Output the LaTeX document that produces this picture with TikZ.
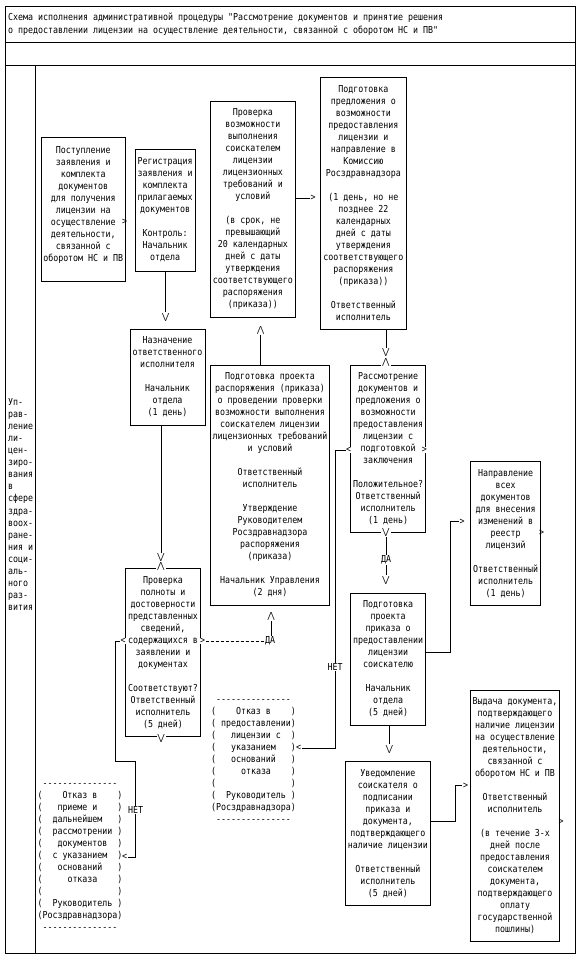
\documentclass[tikz,border=0pt]{standalone}
\usepackage{fontspec}
\setmonofont{DejaVu Sans Mono}[FakeStretch=0.865]
\newlength\cw
\newcommand\pl[2]{(\makebox[15\cw][l]{\hspace*{#1\cw}#2})}
\newcommand\dl{\hspace*{\cw}---------------}
\newcommand\arrdn{\textbackslash\kern-1.7pt/}
\newcommand\arrup{/\kern-1.7pt\textbackslash}
\begin{document}
\settowidth\cw{\ttfamily\fontsize{9.6}{12}\selectfont x}%
\begin{tikzpicture}[x=1pt,y=-1pt,
  every node/.style={font=\ttfamily\fontsize{9.6}{12}\selectfont, inner sep=0pt},
  box/.style={draw, line width=1pt, align=center},
  glyph/.style={inner sep=0.5pt},
  glyphw/.style={fill=white, inner sep=0.5pt},
  lbl/.style={fill=white, inner sep=0.5pt},
  conn/.style={line width=1pt},
  dconn/.style={line width=1pt, dash pattern=on 3.5pt off 1.5pt},
  framel/.style={line width=1pt}]
\fill[white] (0,0) rectangle (582,961);
\useasboundingbox (0,0) rectangle (582,961);

% frame
\draw[framel] (5,6) rectangle (575,953);
\draw[framel] (5,42) -- (575,42);
\draw[framel] (5,65) -- (575,65);
\draw[framel] (35.3,65) -- (35.3,953);

\node[anchor=west, align=left, font=\ttfamily\fontsize{9.6}{13}\selectfont] (title) at (8,24.5)
 {Схема исполнения административной процедуры "Рассмотрение документов и принятие решения\\о предоставлении лицензии на осуществление деятельности, связанной с оборотом НС и ПВ"};

\node[anchor=west, align=left, font=\ttfamily\fontsize{9.6}{12.1}\selectfont] (side) at (8,504.5)
 {Уп-\\рав-\\ление\\ли-\\цен-\\зиро-\\вания\\в\\сфере\\здра-\\воох-\\ране-\\ния и\\соци-\\аль-\\ного\\раз-\\вития};

% boxes
\node[box, minimum width=84.5pt, minimum height=144.5pt] (b1) at (83.25,209.25)
 {Поступление\\заявления и\\комплекта\\документов\\для получения\\лицензии на\\осуществление\\деятельности,\\связанной с\\оборотом НС и ПВ\\[-2pt]\mbox{}};
\node[box, minimum width=60.3pt, minimum height=122pt] (b2) at (165.2,210)
 {Регистрация\\заявления и\\комплекта\\прилагаемых\\документов\\[12pt]Контроль:\\Начальник\\отдела};
\node[box, minimum width=84.3pt, minimum height=215.3pt] (b3) at (252.85,209.35)
 {Проверка\\возможности\\выполнения\\соискателем\\лицензии\\лицензионных\\требований и\\условий\\[12pt](в срок, не\\превышающий\\20 календарных\\дней с даты\\утверждения\\соответствующего\\распоряжения\\(приказа))};
\node[box, minimum width=85.3pt, minimum height=252pt] (b4) at (363.35,203)
 {Подготовка\\предложения о\\возможности\\предоставления\\лицензии и\\направление в\\Комиссию\\Росздравнадзора\\[12pt](1 день, но не\\позднее 22\\календарных\\дней с даты\\утверждения\\соответствующего\\распоряжения\\(приказа))\\[12pt]Ответственный\\исполнитель};
\node[box, minimum width=75pt, minimum height=96pt] (b5) at (167.5,377)
 {Назначение\\ответственного\\исполнителя\\[12pt]Начальник\\отдела\\(1 день)};
\node[box, minimum width=74.6pt, minimum height=168.4pt] (b6) at (163,652.5)
 {Проверка\\полноты и\\достоверности\\представленных\\сведений,\\содержащихся в\\заявлении и\\документах\\[12pt]Соответствуют?\\Ответственный\\исполнитель\\(5 дней)};
\node[box, minimum width=118.6pt, minimum height=240pt] (b7) at (270,485)
 {Подготовка проекта\\распоряжения (приказа)\\о проведении проверки\\возможности выполнения\\соискателем лицензии\\лицензионных требований\\и условий\\[12pt]Ответственный\\исполнитель\\[12pt]Утверждение\\Руководителем\\Росздравнадзора\\распоряжения\\(приказа)\\[12pt]Начальник Управления\\(2 дня)};
\node[box, minimum width=75pt, minimum height=167.7pt] (b8) at (388.2,448.85)
 {Рассмотрение\\документов и\\предложения о\\возможности\\предоставления\\лицензии с\\подготовкой\\заключения\\[12pt]Положительное?\\Ответственный\\исполнитель\\(1 день)};
\node[box, minimum width=75pt, minimum height=131.7pt] (b9) at (388.2,659.15)
 {Подготовка\\проекта\\приказа о\\предоставлении\\лицензии\\соискателю\\[12pt]Начальник\\отдела\\(5 дней)};
\node[box, minimum width=70pt, minimum height=144pt] (b10) at (505.7,533.7)
 {Направление\\всех\\документов\\для внесения\\изменений в\\реестр\\лицензий\\[12pt]Ответственный\\исполнитель\\(1 день)};
\node[box, minimum width=85.7pt, minimum height=143.3pt] (b11) at (387.85,833.35)
 {Уведомление\\соискателя о\\подписании\\приказа и\\документа,\\подтверждающего\\наличие лицензии\\[12pt]Ответственный\\исполнитель\\(5 дней)};
\node[box, minimum width=88.6pt, minimum height=251pt] (b12) at (515,815.5)
 {Выдача документа,\\подтверждающего\\наличие лицензии\\на осуществление\\деятельности,\\связанной с\\оборотом НС и ПВ\\[12pt]Ответственный\\исполнитель\\[12pt](в течение 3-х\\дней после\\предоставления\\соискателем\\документа,\\подтверждающего\\оплату\\государственной\\пошлины)};

% text-framed refusal boxes
\node[align=left] (pA) at (80,857)
 {\dl\\
  \pl{4}{Отказ в}\\
  \pl{3}{приеме и}\\
  \pl{2}{дальнейшем}\\
  \pl{2}{рассмотрении}\\
  \pl{3}{документов}\\
  \pl{2}{с указанием}\\
  \pl{3}{оснований}\\
  \pl{5}{отказа}\\
  \pl{0}{}\\
  \pl{2}{Руководитель}\\
  \pl{0}{Росздравнадзора}\\
  \dl};
\node[align=left] (pB) at (253.5,761)
 {\dl\\
  \pl{4}{Отказ в}\\
  \pl{1}{предоставлении}\\
  \pl{3}{лицензии с}\\
  \pl{3}{указанием}\\
  \pl{3}{оснований}\\
  \pl{5}{отказа}\\
  \pl{0}{}\\
  \pl{2}{Руководитель}\\
  \pl{0}{Росздравнадзора}\\
  \dl};

% arrow glyphs
\node[glyph]  (a1)  at (124.5,221.7) {>};
\node[glyph]  (a2)  at (165.7,317) {\arrdn};
\node[glyph]  (a3)  at (313,198) {>};
\node[glyph]  (a4)  at (260.7,330) {\arrup};
\node[glyph]  (a5d) at (386,352.3) {\arrdn};
\node[glyphw] (a5u) at (386,362.3) {\arrup};
\node[glyph]  (a6d) at (161,557.5) {\arrdn};
\node[glyphw] (a6u) at (161,566.8) {\arrup};
\node[glyphw] (a7)  at (161.3,738.5) {\arrdn};
\node[glyphw] (a8l) at (123,641) {<};
\node[glyphw] (a8r) at (202.5,641) {>};
\node[glyph]  (a9)  at (124.7,857.3) {<};
\node[glyph]  (a10) at (271.3,616.7) {\arrup};
\node[glyphw] (a11l) at (348.7,450) {<};
\node[glyphw] (a11r) at (424.3,450) {>};
\node[glyph]  (a12) at (298.7,748.3) {<};
\node[glyphw] (a13) at (386,532.7) {\arrdn};
\node[glyph]  (a14) at (386,580) {\arrdn};
\node[glyph]  (a15) at (462,521.7) {>};
\node[glyph]  (a16) at (541.7,533.3) {>};
\node[glyph]  (a17) at (389.5,749) {\arrdn};
\node[glyph]  (a18) at (465.5,785.7) {>};
\node[glyph]  (a19) at (561,821.7) {>};

% labels
\node[lbl] (da1) at (270,641) {ДА};
\node[lbl] (da2) at (386,560) {ДА};
\node[lbl] (no1) at (135.7,810) {НЕТ};
\node[lbl] (no2) at (335,667) {НЕТ};

% connectors
\draw[conn] (a2 |- b2.south) -- (a2.north);
\draw[conn] (b3.east |- a3) -- (a3.west);
\draw[conn] (a4.south) -- (a4 |- b7.north);
\draw[conn] (a5d |- b4.south) -- (a5d.north);
\draw[conn] (a6d |- b5.south) -- (a6d.north);
\draw[conn] (a8l.west) -| (115.7,761.7) -| (no1.north);
\draw[conn] (no1.south) |- (a9.east);
\draw[dconn] (a8r.east) -- (da1.west);
\draw[conn] (da1.north -| a10) -- (a10.south);
\draw[conn] (a11l.west) -| (no2.north);
\draw[conn] (no2.south) |- (a12.east);
\draw[conn] (a13.south) -- (da2.north);
\draw[conn] (da2.south) -- (a14.north);
\draw[conn] ([yshift=6.5pt]b9.east) -- (450.7,652.65) |- (a15.west);
\draw[conn] (a17 |- b9.south) -- (a17.north);
\draw[conn] ([yshift=12.35pt]b11.east) -- (455,821) |- (a18.west);
\end{tikzpicture}
\end{document}
